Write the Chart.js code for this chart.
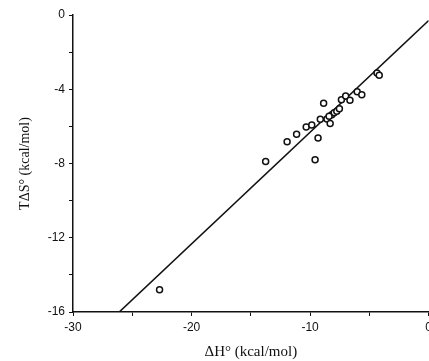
<!DOCTYPE html>
<html>
<head>
<meta charset="utf-8">
<script src="https://cdn.jsdelivr.net/npm/chart.js@4.4.1/dist/chart.umd.min.js"></script>
<style>
  html, body { margin: 0; padding: 0; background: #fff; overflow: hidden; }
  #wrap { width: 436px; height: 361px; }
</style>
</head>
<body>
<div id="wrap"><canvas id="plotCanvas" width="436" height="361"></canvas></div>
<script>
const dH = [-22.7, -13.75, -11.94, -11.14, -10.33, -9.86, -9.14, -8.86, -9.33, -9.58,
            -8.58, -8.31, -8.17, -7.97, -7.75, -7.53, -7.36, -7.0, -6.64, -6.03,
            -5.64, -4.36, -4.17, -8.4];
const TdS = [-14.8, -7.89, -6.83, -6.43, -6.04, -5.93, -5.62, -4.76, -6.63, -7.8,
             -5.6, -5.84, -5.37, -5.26, -5.19, -5.05, -4.56, -4.36, -4.59, -4.13,
             -4.29, -3.12, -3.24, -5.45];

// fitted line ends
const fitX = [-26.1, 0];
const fitY = [-16, -0.3];

const xTicksShown = [-30, -20, -10, 0];
const yTicksShown = [0, -4, -8, -12, -16];

const ctx = document.getElementById("plotCanvas");

const chart = new Chart(ctx, {
    type: 'scatter',
    data: {
        datasets: [{
            data: dH.map((x, i) => ({x: x, y: TdS[i]})),
            pointRadius: 3,
            pointBorderWidth: 1.5,
            pointBorderColor: '#111',
            pointBackgroundColor: '#fff',
            order: 1
        }, {
            type: 'line',
            data: fitX.map((x, i) => ({x: x, y: fitY[i]})),
            borderColor: '#111',
            borderWidth: 1.6,
            pointRadius: 0,
            fill: false,
            order: 2
        }]
    },
    options: {
        responsive: false,
        animation: false,
        layout: { padding: { top: 15, right: 0, left: 0, bottom: 0 } },
        plugins: { legend: { display: false }, tooltip: { enabled: false } },
        scales: {
            x: {
                type: 'linear',
                min: -30, max: 0,
                afterFit: s => { s.height = 49; },
                border: { color: '#111', width: 1.5 },
                grid: { display: true, drawOnChartArea: false, drawTicks: true, tickLength: 4, color: '#111' },
                ticks: {
                    stepSize: 5,
                    color: '#111',
                    padding: 4,
                    maxRotation: 0,
                    font: { family: 'Liberation Sans', size: 12 },
                    callback: v => xTicksShown.includes(v) ? String(v) : ''
                },
                title: {
                    display: true,
                    text: 'ΔH° (kcal/mol)',
                    color: '#111',
                    font: { family: 'Liberation Serif', size: 15 },
                    padding: { top: 2, bottom: 0 }
                }
            },
            y: {
                type: 'linear',
                min: -16, max: 0,
                afterFit: s => { s.width = 73; },
                border: { color: '#111', width: 1.5 },
                grid: { display: true, drawOnChartArea: false, drawTicks: true, tickLength: 4, color: '#111' },
                ticks: {
                    stepSize: 2,
                    color: '#111',
                    padding: 4,
                    font: { family: 'Liberation Sans', size: 12 },
                    callback: v => yTicksShown.includes(v) ? String(v) : ''
                },
                title: {
                    display: true,
                    text: 'TΔS° (kcal/mol)',
                    color: '#111',
                    font: { family: 'Liberation Serif', size: 14 },
                    padding: { top: 17, bottom: 0 }
                }
            }
        }
    }
});
</script>
</body>
</html>
